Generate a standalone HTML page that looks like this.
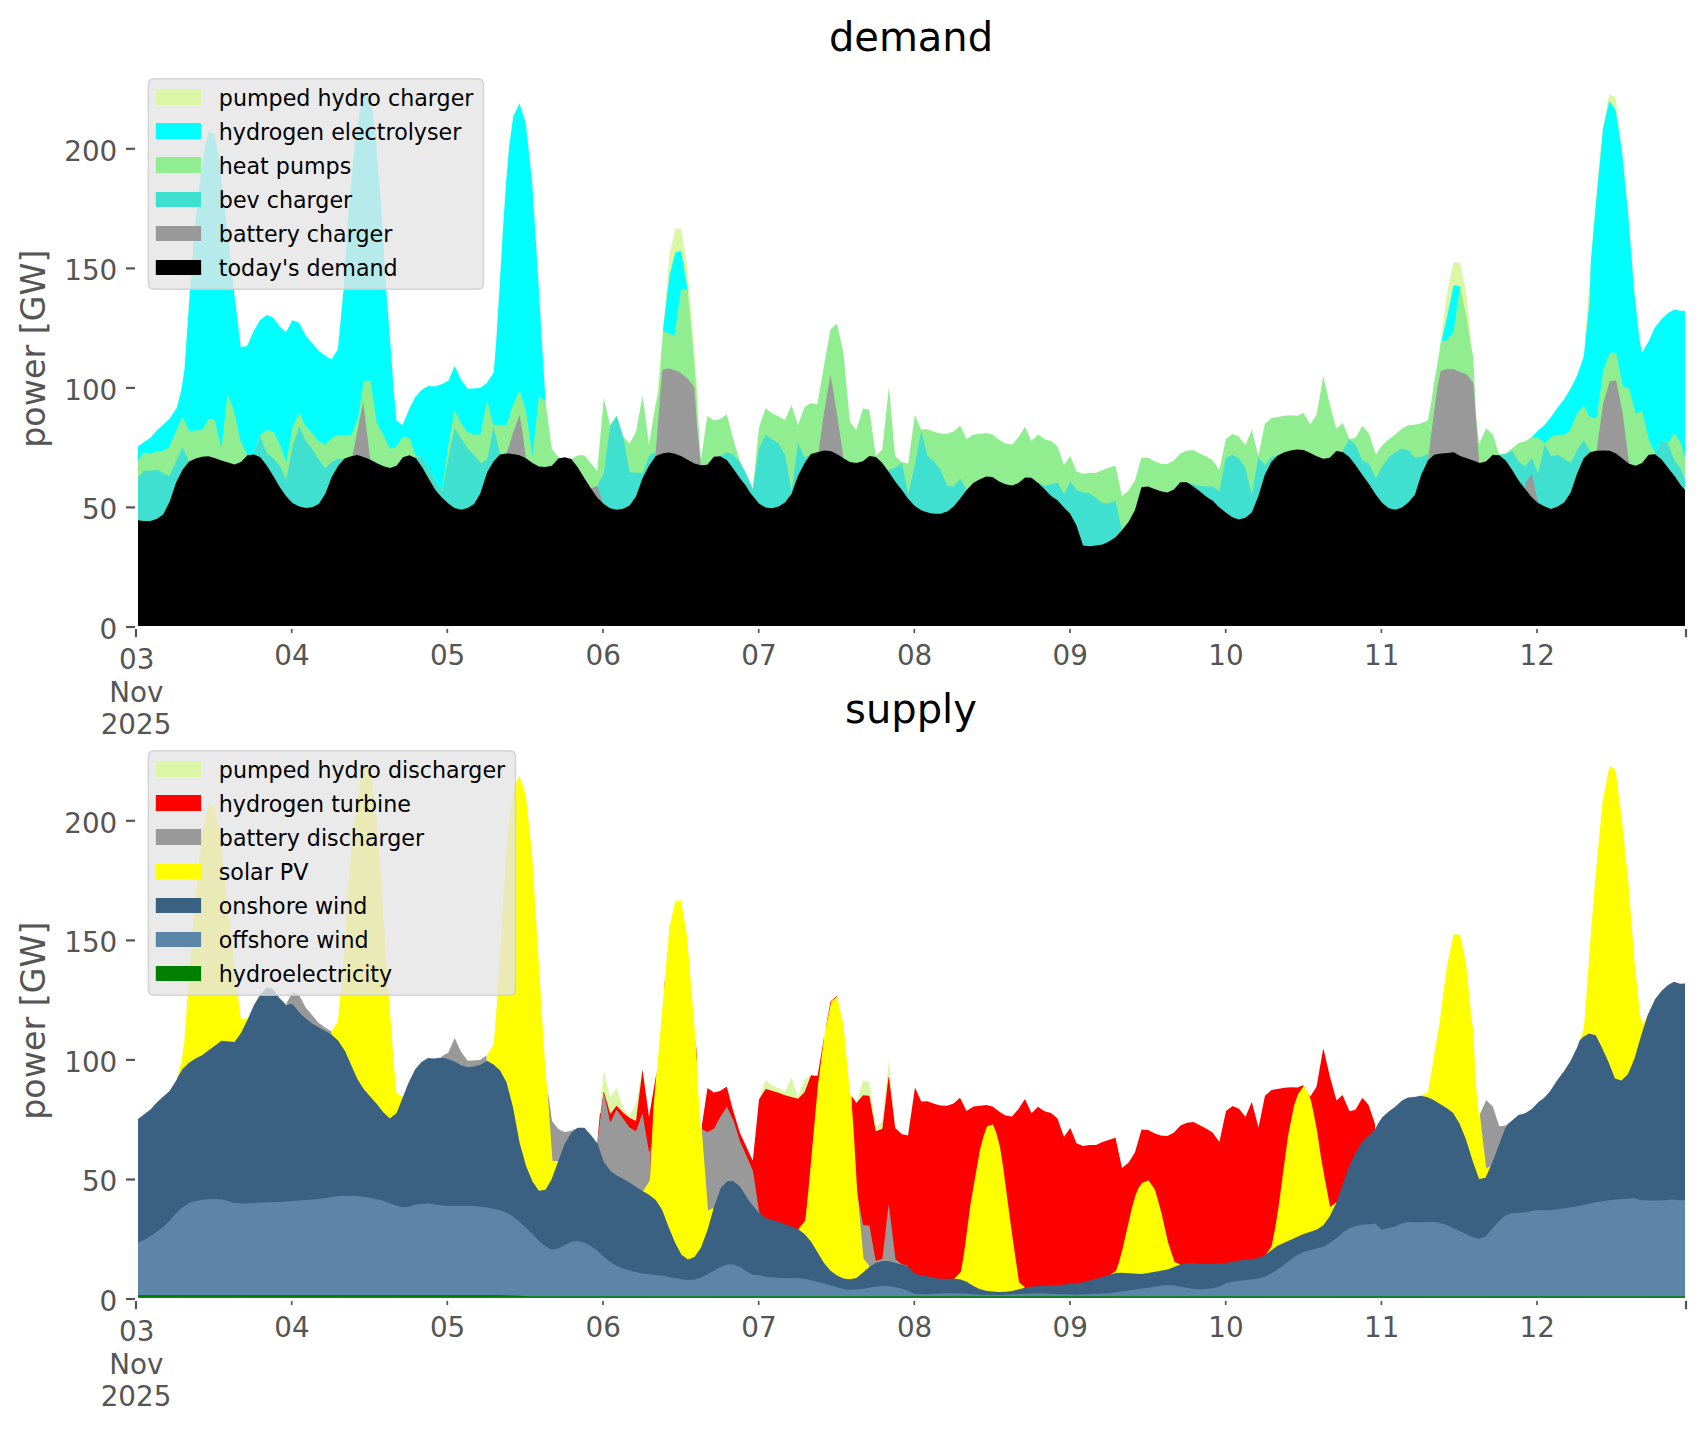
<!DOCTYPE html>
<html><head><meta charset="utf-8"><title>demand / supply</title>
<style>
html,body{margin:0;padding:0;background:#fff;}
body{width:1706px;height:1431px;overflow:hidden;}
svg{display:block}
text{font-family:"DejaVu Sans","Liberation Sans",sans-serif;}
.tk{font-size:27.8px;fill:#555555}
.tt{font-size:40px;fill:#000}
.yl{font-size:33.3px;fill:#555555}
.lg{font-size:22.2px;fill:#000}
</style></head><body>
<svg width="1706" height="1431" viewBox="0 0 1706 1431">
<defs><clipPath id="c1"><rect x="138" y="60" width="1547" height="566"/></clipPath><clipPath id="c2"><rect x="138" y="730" width="1547" height="568"/></clipPath></defs>
<rect width="1706" height="1431" fill="#ffffff"/>
<g clip-path="url(#c1)" shape-rendering="geometricPrecision"><path d="M657.7 626.0L657.7 390.0L663.1 329.0L669.6 253.3L675.5 229.0L681.1 228.2L687.0 264.0L692.4 329.0L697.4 390.0L697.4 626.0Z" fill="#d9f7a5"/>
<path d="M1440.9 626.0L1440.9 340.0L1447.2 292.6L1453.6 262.2L1460.0 262.8L1466.3 292.6L1470.9 340.0L1470.9 626.0Z" fill="#d9f7a5"/>
<path d="M1585.0 626.0L1585.0 340.0L1590.8 261.7L1596.2 196.3L1602.6 129.1L1609.3 94.0L1615.5 97.6L1622.0 149.0L1628.6 212.6L1634.4 289.0L1639.8 340.0L1639.8 626.0Z" fill="#d9f7a5"/>
<path d="M136.0 626.0L136.0 446.9L137.1 446.9L150.6 437.5L157.2 430.0L169.4 419.1L176.9 407.5L181.6 388.8L184.4 370.0L190.0 290.1L194.7 230.1L199.4 185.0L204.1 151.3L208.8 131.6L214.4 134.4L219.1 158.8L223.8 200.1L229.4 248.8L234.1 292.0L240.8 347.2L247.2 346.1L253.5 331.3L260.0 320.2L266.6 315.0L272.9 317.2L279.4 326.1L286.0 332.2L292.4 320.2L298.9 322.6L305.5 335.3L312.1 343.0L318.6 350.8L324.9 355.5L331.5 359.4L337.9 349.3L343.5 290.0L348.5 211.3L354.2 151.3L359.8 110.0L364.5 95.0L370.1 95.9L375.7 136.3L381.4 211.3L386.0 286.3L390.7 348.1L393.6 388.8L396.4 420.6L402.4 425.3L409.5 408.5L415.1 397.2L421.7 389.7L428.3 385.9L434.8 386.5L442.3 384.1L447.0 381.3L448.2 381.2L454.7 366.0L461.2 380.1L467.7 388.7L480.1 388.1L486.6 383.3L493.7 372.5L496.3 340.0L499.6 285.8L502.8 231.7L506.1 181.8L509.3 145.0L513.2 116.8L519.5 103.4L525.8 123.3L528.8 151.5L532.1 181.8L535.3 231.7L538.6 285.8L541.8 340.0L544.9 390.0L545.6 401.9L546.9 482.5L660.0 600.0L663.1 329.0L669.6 275.0L675.5 252.2L681.1 251.1L687.6 289.7L689.0 600.0L1440.0 600.0L1441.8 340.0L1447.6 314.4L1453.6 285.3L1460.0 286.2L1461.0 600.0L1494.0 600.0L1531.8 437.0L1538.1 430.4L1544.8 424.7L1551.1 416.9L1557.7 407.5L1564.1 399.2L1570.7 388.6L1577.1 375.6L1583.7 356.7L1587.3 323.6L1589.6 300.0L1590.8 261.7L1596.6 196.3L1603.0 129.1L1609.3 100.9L1615.5 110.0L1621.7 149.0L1628.0 212.6L1633.9 289.0L1639.5 340.0L1642.1 352.4L1648.7 341.3L1655.0 327.2L1661.7 318.9L1668.0 313.0L1674.6 309.4L1681.0 311.1L1686.5 310.6L1687.0 310.6L1687.0 626.0Z" fill="#00ffff"/>
<path d="M136.0 626.0L136.0 462.9L137.1 462.9L143.1 452.5L149.7 453.8L156.3 451.6L162.8 451.6L169.4 446.3L182.5 416.5L189.1 431.0L195.7 430.4L202.2 430.0L208.8 418.4L214.8 420.3L221.4 448.8L227.5 394.0L233.5 409.4L240.7 441.3L247.2 454.4L250.1 458.2L253.8 452.5L260.4 434.7L266.9 430.0L273.5 431.9L280.1 445.0L286.3 461.9L292.8 426.3L299.4 412.2L305.4 426.3L312.0 432.8L318.5 441.3L325.1 444.5L331.7 437.9L338.2 434.7L345.7 435.7L351.3 434.7L357.9 418.8L363.9 380.7L370.5 380.7L376.7 422.5L383.2 434.7L389.8 448.8L396.4 446.5L402.9 436.6L409.5 437.9L415.5 455.3L422.6 457.4L430.1 470.9L442.3 491.6L442.3 490.1L448.3 445.0L454.6 410.3L461.2 423.5L467.6 432.3L474.1 434.7L480.5 434.2L487.1 400.0L493.5 425.3L500.0 424.4L506.6 425.3L513.0 404.7L519.5 390.3L525.9 410.3L532.5 456.3L538.9 396.3L545.4 401.0L551.8 448.8L558.4 457.2L564.7 460.0L571.3 459.1L577.9 455.3L584.3 455.3L590.8 462.9L597.2 471.3L603.8 398.1L610.1 425.3L616.7 415.6L623.1 436.6L629.6 443.7L636.0 431.9L642.6 395.3L649.0 445.0L655.5 405.0L658.8 390.0L663.1 331.3L674.6 335.6L681.1 288.4L687.6 289.7L692.4 340.0L696.3 390.0L700.9 460.0L707.3 416.0L713.9 420.6L720.2 419.1L726.8 414.6L733.2 439.0L739.8 460.6L746.1 474.9L752.7 488.7L752.8 488.9L759.0 427.5L765.6 407.9L772.0 413.4L778.6 416.2L785.0 420.0L791.6 405.1L797.9 425.2L804.6 406.7L810.9 403.2L817.5 403.9L823.9 366.1L830.5 329.5L836.9 323.6L843.5 353.1L849.9 421.6L856.3 430.6L862.9 408.6L869.3 409.8L875.9 455.9L882.3 449.3L888.9 386.9L895.2 455.9L901.9 462.2L908.2 463.4L914.8 415.0L921.2 429.4L927.6 429.2L934.2 431.8L940.6 433.4L947.2 433.7L953.6 431.5L960.2 425.6L966.6 439.3L973.2 434.6L979.5 433.9L986.2 433.0L992.5 434.6L999.2 439.8L1005.5 443.6L1012.1 444.5L1018.5 437.0L1025.1 426.8L1031.5 441.2L1038.1 434.6L1044.5 439.3L1051.1 441.0L1057.5 446.4L1064.1 465.3L1064.7 464.1L1070.2 455.9L1076.5 471.2L1083.1 474.1L1089.5 473.1L1095.9 472.9L1102.5 470.0L1108.9 467.7L1115.5 465.8L1121.9 496.0L1128.5 490.8L1134.9 480.7L1141.5 457.5L1147.9 457.8L1154.5 461.3L1160.8 463.7L1167.5 464.1L1173.8 460.6L1180.4 453.5L1186.8 450.7L1193.4 450.0L1199.8 453.5L1206.4 456.6L1212.8 460.6L1219.4 470.0L1225.8 439.3L1232.4 434.1L1238.8 436.5L1245.4 445.2L1251.8 429.9L1258.4 455.9L1264.8 424.0L1271.4 418.1L1277.7 416.9L1284.4 415.7L1290.7 415.2L1297.3 415.7L1303.7 412.9L1310.3 424.5L1316.7 414.5L1323.3 376.0L1329.7 403.9L1336.3 428.7L1342.7 422.8L1349.3 439.3L1355.7 437.7L1362.3 425.9L1368.7 433.0L1370.0 437.0L1375.9 454.7L1382.3 445.2L1388.9 439.3L1395.3 434.6L1401.9 428.7L1408.3 425.2L1414.9 424.7L1421.2 423.3L1427.9 420.4L1430.9 403.9L1434.9 377.9L1439.0 354.3L1440.8 341.3L1447.2 340.0L1453.6 331.7L1460.0 286.2L1466.3 316.0L1470.0 340.0L1473.2 356.7L1476.3 418.1L1479.1 444.1L1486.2 428.2L1492.8 434.6L1499.2 454.2L1505.8 453.5L1512.2 448.3L1518.8 442.9L1525.2 441.2L1531.8 437.0L1538.1 437.7L1544.8 443.6L1551.1 437.0L1557.7 434.6L1564.1 435.1L1570.7 429.4L1577.1 413.4L1583.7 405.6L1590.1 417.4L1596.7 418.1L1603.1 370.8L1609.7 353.1L1616.1 352.4L1622.7 386.2L1629.1 388.6L1635.7 413.8L1642.1 411.0L1648.7 439.3L1655.0 453.0L1661.7 439.3L1668.0 442.9L1674.6 433.0L1681.0 444.1L1686.5 463.0L1687.0 463.0L1687.0 626.0Z" fill="#90ee90"/>
<path d="M136.0 626.0L136.0 478.8L137.1 478.8L144.1 470.4L150.6 470.7L157.2 469.8L163.8 473.5L169.4 476.0L182.5 447.3L189.1 461.4L191.9 475.0L250.1 475.0L252.9 454.4L260.4 436.6L266.9 453.5L273.5 458.2L280.1 466.6L286.3 479.7L292.8 445.0L299.4 426.3L305.4 440.3L312.0 448.8L318.5 459.1L325.1 467.9L331.7 461.9L338.2 458.7L345.7 458.5L349.5 475.0L411.4 475.0L415.1 456.3L422.6 457.8L430.1 471.3L442.3 491.9L448.3 458.2L454.6 428.2L461.2 438.5L467.6 448.4L474.1 455.3L480.5 462.9L487.1 460.0L493.5 427.2L500.0 453.5L502.8 475.0L593.8 501.3L597.2 485.9L603.8 473.2L610.1 426.3L616.7 416.0L623.1 436.6L629.6 472.2L636.0 472.8L642.6 472.8L649.0 456.3L652.0 453.1L655.5 454.0L657.6 475.0L717.6 475.0L720.2 455.9L726.8 452.5L733.2 454.4L739.8 461.9L746.1 473.2L752.7 489.1L752.8 490.1L759.0 448.8L765.6 434.6L772.0 439.3L778.6 443.6L785.0 454.7L791.6 491.8L797.9 442.9L804.6 457.8L810.9 454.0L813.8 479.5L885.8 488.9L888.9 470.0L895.2 467.7L901.9 463.0L908.2 493.7L914.8 465.3L921.2 431.1L927.6 455.9L934.2 461.8L940.6 470.0L947.2 485.4L953.6 487.0L960.2 478.8L966.6 489.6L969.6 507.8L1034.6 507.8L1038.1 482.3L1044.5 485.9L1051.1 484.2L1057.5 482.6L1064.1 494.1L1064.7 493.7L1070.2 481.4L1076.5 490.1L1083.1 492.5L1089.5 493.2L1095.9 497.9L1102.5 503.1L1108.9 503.6L1115.5 500.7L1121.9 530.3L1124.9 548.0L1184.0 512.5L1186.8 482.3L1193.4 484.2L1199.8 486.1L1206.4 486.6L1212.8 486.6L1219.4 491.3L1225.8 458.2L1232.4 454.7L1238.8 458.2L1245.4 467.7L1251.8 494.8L1258.4 457.0L1264.8 465.3L1271.4 457.0L1277.7 455.4L1280.8 479.5L1339.9 479.5L1342.7 451.1L1349.3 439.3L1355.7 445.2L1362.3 460.6L1368.7 463.4L1375.9 478.3L1382.3 466.5L1388.9 457.0L1395.3 452.3L1401.9 448.8L1408.3 450.0L1414.9 457.8L1421.2 457.0L1427.9 453.5L1429.0 479.5L1496.3 479.5L1499.2 454.7L1505.8 454.0L1512.2 451.1L1518.8 461.8L1525.2 466.5L1531.8 458.2L1538.1 473.6L1544.8 444.5L1551.1 455.9L1557.7 454.7L1564.1 458.7L1570.7 463.0L1577.1 450.0L1583.7 440.5L1590.1 451.1L1593.2 479.5L1652.2 479.5L1655.0 453.0L1661.7 439.3L1668.0 444.1L1674.6 460.6L1681.0 468.9L1686.5 484.2L1687.0 484.2L1687.0 626.0Z" fill="#40e0d0"/>
<path d="M352.3 626.0L352.3 456.3L363.2 401.9L370.1 458.2L370.1 626.0Z" fill="#999999"/>
<path d="M506.6 626.0L506.6 453.5L513.0 432.8L519.5 415.0L522.5 431.9L525.9 458.2L525.9 626.0Z" fill="#999999"/>
<path d="M590.8 626.0L590.8 488.2L597.2 485.9L602.8 502.2L602.8 626.0Z" fill="#999999"/>
<path d="M655.5 626.0L655.5 454.4L658.5 416.9L662.1 372.0L663.1 369.2L669.6 368.6L678.3 371.4L687.0 377.9L692.4 384.4L694.4 388.0L697.0 426.0L700.9 465.5L700.9 626.0Z" fill="#999999"/>
<path d="M818.5 626.0L818.5 451.9L823.9 413.4L830.5 374.4L836.9 413.4L843.5 457.8L843.5 626.0Z" fill="#999999"/>
<path d="M1427.9 626.0L1427.9 460.6L1430.9 437.0L1434.2 411.0L1437.3 387.4L1440.8 370.8L1447.2 369.0L1453.8 369.2L1460.2 372.0L1466.8 374.4L1473.2 382.7L1476.3 422.8L1479.1 463.0L1479.1 626.0Z" fill="#999999"/>
<path d="M1525.2 626.0L1525.2 483.0L1531.8 473.6L1538.1 503.1L1538.1 626.0Z" fill="#999999"/>
<path d="M1596.7 626.0L1596.7 450.7L1599.1 432.3L1603.1 403.9L1609.7 381.5L1616.1 380.3L1622.7 413.4L1629.1 463.7L1629.1 626.0Z" fill="#999999"/>
<path d="M136.0 626.0L136.0 520.1L137.1 520.1L143.7 521.0L150.3 521.0L156.6 519.1L163.2 514.4L169.8 501.3L176.1 482.5L182.7 469.4L189.1 461.4L195.7 458.5L202.0 456.7L208.6 456.3L215.2 458.2L221.5 460.4L228.1 462.5L234.5 464.4L241.0 461.9L247.4 455.3L254.0 454.4L260.4 457.2L266.9 465.7L273.3 476.0L279.9 487.2L286.4 496.6L292.8 503.2L299.4 506.6L305.8 507.9L312.3 507.3L318.7 504.1L325.3 493.8L331.7 476.9L338.2 465.7L344.6 458.5L351.2 456.3L357.5 455.0L364.1 457.2L370.5 459.7L377.0 463.2L383.6 466.2L390.0 467.9L396.6 465.7L402.9 457.2L409.5 455.3L415.9 458.2L422.4 467.5L428.8 478.8L435.4 490.1L441.8 497.4L448.3 503.6L454.6 507.9L461.2 509.7L467.6 507.9L474.1 504.1L480.5 492.9L487.1 472.2L493.5 461.5L500.0 454.4L506.6 453.5L513.0 454.0L519.5 455.3L525.9 458.2L532.5 462.9L538.9 466.6L545.4 467.0L551.8 465.7L558.4 458.5L564.7 457.2L571.3 459.1L577.9 467.5L584.3 477.9L590.8 488.2L597.2 497.6L603.8 504.1L610.1 508.2L616.7 509.7L623.1 508.8L629.6 505.4L636.0 496.6L642.6 477.9L649.0 465.7L655.5 456.3L662.1 453.5L668.5 452.5L675.0 453.8L681.4 456.3L688.0 460.0L694.4 463.4L700.9 465.3L707.3 464.7L713.9 456.7L720.2 456.3L726.8 460.0L733.2 468.5L739.8 477.9L746.1 485.9L750.0 492.5L759.0 503.6L765.6 507.4L772.0 508.3L778.6 506.6L785.0 502.6L791.6 493.7L797.9 475.9L804.6 463.0L810.9 454.0L817.5 452.3L823.9 450.4L830.5 451.1L836.9 454.0L843.5 458.2L849.9 462.0L856.3 463.0L862.9 461.3L869.3 455.9L875.9 457.0L882.3 463.0L888.9 471.9L895.2 481.4L901.9 490.1L908.2 498.8L914.8 505.9L921.2 510.2L927.6 512.5L934.2 513.7L940.6 513.7L947.2 511.4L953.6 506.6L960.2 498.4L966.6 490.1L973.2 483.0L979.5 479.5L986.2 476.6L992.5 477.1L999.2 481.4L1005.5 484.2L1012.1 485.4L1018.5 483.0L1025.1 477.6L1031.5 477.8L1038.1 483.0L1044.5 488.9L1051.1 496.0L1057.5 500.3L1060.0 503.1L1064.7 508.3L1070.2 513.7L1076.5 525.5L1083.1 545.6L1089.5 546.3L1095.9 545.6L1102.5 544.4L1108.9 541.6L1115.5 537.3L1121.9 530.3L1128.5 522.0L1134.9 510.2L1141.5 487.3L1147.9 486.6L1154.5 488.9L1160.8 491.3L1167.5 492.5L1173.8 489.6L1180.4 482.3L1186.8 482.3L1193.4 486.6L1199.8 491.3L1206.4 496.7L1212.8 500.7L1219.4 507.4L1225.8 512.5L1232.4 517.3L1238.8 519.6L1245.4 517.7L1251.8 512.5L1258.4 496.0L1264.8 474.8L1271.4 461.8L1277.7 455.4L1284.4 452.3L1290.7 450.4L1297.3 449.5L1303.7 450.0L1310.3 453.0L1316.7 456.3L1323.3 458.7L1329.7 457.8L1336.3 451.1L1342.7 451.9L1349.3 457.0L1355.7 465.3L1362.3 474.8L1370.0 485.4L1375.9 494.8L1382.3 503.1L1388.9 508.3L1395.3 509.7L1401.9 507.4L1408.3 502.6L1414.9 494.8L1421.2 474.8L1427.9 460.6L1434.2 454.7L1440.8 453.5L1447.2 453.0L1453.8 452.3L1460.2 455.9L1466.8 458.2L1473.2 460.6L1479.8 463.0L1486.2 461.3L1492.8 454.7L1499.2 455.2L1505.8 460.6L1512.2 470.0L1518.8 480.7L1525.2 488.9L1531.8 497.2L1538.1 503.1L1544.8 506.6L1551.1 509.0L1557.7 506.6L1564.1 502.6L1570.7 492.5L1577.1 473.6L1583.7 458.2L1590.1 452.3L1596.7 450.7L1603.1 450.4L1609.7 450.7L1616.1 453.5L1622.7 458.7L1629.1 463.7L1635.7 465.8L1642.1 463.0L1648.7 454.7L1655.0 454.2L1661.7 459.4L1668.0 467.7L1674.6 475.9L1681.0 485.4L1686.5 491.8L1687.0 491.8L1687.0 626.0Z" fill="#000000"/></g>
<g clip-path="url(#c2)"><path d="M134 1297.7L134 1301.7L600 1301.7L600.5 1106.7L603.5 1073.4L604 1071L610 1096.9L610.5 1096.7L616.5 1087.9L617 1088.6L623 1108.3L629.5 1115.6L636 1103.9L642.5 1067.9L645 1085.9L645.5 1301.7L759 1301.7L759.5 1098L765.5 1080.2L766 1080.2L772 1085.4L778.5 1088.2L785 1092L791.5 1077.3L798 1096.9L804.5 1079L810.5 1075.4L811 1301.7L856 1301.7L856.5 1101.9L863 1080.6L869 1081.7L869.5 1083.2L876 1127.8L882 1121.6L889 1060L895 1125.7L895.5 1301.7L1690 1301.7L1690 1297.7Z" fill="#d9f7a5"/>
<path d="M134 1297.7L134 1301.7L597 1301.7L597.5 1140L600 1112.2L600.5 1114.4L603.5 1092.4L604 1092L610 1113L610.5 1113.8L616.5 1105.7L623.5 1113.1L629.5 1117.7L636 1120.9L642.5 1069.7L649 1117L656.5 1072.5L657 1301.7L664 1301.7L664.5 984.7L665 978.9L665.5 1301.7L695 1301.7L695.5 1038.8L697 1057.1L697.5 1301.7L701.5 1301.7L702 1124.4L707.5 1088.1L714 1092.6L720 1091.1L726.5 1086.8L727 1087.4L733 1110.2L740 1133.1L752.5 1160.3L753 1158.9L759 1099.5L765.5 1089.2L766 1089L778.5 1092.8L785 1095.3L798 1098.7L804.5 1092.2L811 1075.2L817.5 1075.9L824 1037.5L824.5 1301.7L826 1301.7L826.5 1023.7L830.5 1001.5L836.5 996L837 996L837.5 1301.7L851 1301.7L851.5 1095.9L856.5 1103L863 1095.3L869 1095.8L869.5 1096.4L875.5 1130.2L876 1131.2L882 1128.9L882.5 1127.9L888.5 1076.7L889 1077.4L895 1126.4L895.5 1128.2L902 1134.2L908 1135.4L915 1087.5L921 1100.9L921.5 1101.4L927.5 1101.2L934 1103.7L940.5 1105.4L947 1105.7L953.5 1103.5L960 1097.8L966.5 1111.1L973.5 1106.6L986.5 1105.1L992.5 1106.6L999 1111.6L1005.5 1115.6L1012 1116.5L1018.5 1109L1025 1099L1031.5 1113.2L1038 1106.7L1044.5 1111.3L1051 1113L1057.5 1118.4L1064 1137L1070 1128.2L1070.5 1128.6L1076.5 1143.2L1083 1146.1L1089.5 1145.1L1096 1144.9L1102.5 1142L1115.5 1137.8L1122 1167.9L1128.5 1162.8L1135 1152.3L1141.5 1129.5L1148 1129.9L1154.5 1133.3L1160.5 1135.6L1167.5 1136.1L1174 1132.4L1180.5 1125.5L1187 1122.7L1193.5 1122.1L1206.5 1128.7L1212.5 1132.4L1219 1141.4L1219.5 1141.5L1226 1111.1L1232 1106.4L1232.5 1106.1L1239 1108.8L1245.5 1117L1251.5 1102.6L1252 1102.7L1258.5 1127.4L1265 1095.8L1271.5 1090.1L1284.5 1087.7L1290.5 1087.2L1297.5 1087.6L1303.5 1085L1304 1301.7L1308.5 1301.7L1309 1094.2L1310 1096L1310.5 1096.2L1316.5 1086.8L1323 1049.7L1323.5 1048.9L1330 1077L1336.5 1100.5L1342.5 1095L1349.5 1111.2L1355.5 1109.8L1362 1098.4L1362.5 1098.1L1368.5 1104.8L1375 1124L1375.5 1301.7L1690 1301.7L1690 1297.7Z" fill="#ff0000"/>
<path d="M134 1297.7L134 1301.7L286 1301.7L286.5 1003.3L292.5 992.2L299 994.8L305.5 1007.3L318.5 1022.7L325 1027.6L331.5 1031.4L332 1301.7L441.5 1301.7L442 1056.2L447 1053.3L448 1053.2L454.5 1038.5L455 1038.7L461 1051.7L467.5 1060.4L468 1060.7L480 1060.1L486.5 1055.4L487 1301.7L547 1301.7L547.5 1088.7L552 1121.1L558.5 1129.2L564.5 1131.9L571 1131.1L575.5 1128.7L576 1301.7L597 1301.7L597.5 1140.7L603.5 1093.7L604 1093.5L610 1121.3L610.5 1122.3L616.5 1109.4L629.5 1127.5L636 1131.2L642.5 1113.2L649 1152.1L649.5 1151.6L650.5 1145.8L651 1301.7L701.5 1301.7L702 1129.3L707.5 1132L714 1128.8L720.5 1116.5L727 1106.8L733.5 1120.8L740 1141.2L753 1171.1L759 1211.3L759.5 1212.8L760 1301.7L857.5 1301.7L858 1197.8L863 1225L869 1225.4L869.5 1226L875.5 1259.8L876 1260.8L882 1259.1L882.5 1258.1L888.5 1205.2L889 1205.9L895.5 1259.2L901.5 1263.9L908 1265.7L908.5 1301.7L1479.5 1301.7L1480 1114.1L1486 1100.6L1486.5 1100.5L1492.5 1106.3L1493 1107.2L1499 1125.6L1499.5 1126.2L1505.5 1125.5L1508.5 1123.3L1509 1301.7L1690 1301.7L1690 1297.7Z" fill="#999999"/>
<path d="M134 1297.7L134 1301.7L177 1301.7L177.5 1077.1L181.5 1061.2L184.5 1040.6L190 962.1L194.5 904.7L199.5 856.3L204 824L209 803.7L214 806.2L214.5 806.9L219 830.3L234 963.1L240.5 1016.7L241 1019.2L247 1018.1L247.5 1301.7L331.5 1301.7L332 1030.6L337.5 1021.9L338 1020.2L343.5 962L348.5 883.3L354 825.4L360 781.4L364.5 767L370 767.9L375.5 806.9L381.5 884.9L386 958.3L393.5 1059.4L396 1088.1L396.5 1092.7L402 1097L402.5 1097.1L403 1095.9L403.5 1301.7L486.5 1301.7L487 1054.7L493.5 1044.8L494 1040.8L496.5 1008.7L506 855.3L509 820.5L513 790.2L513.5 788.2L519.5 775.4L525.5 794.4L526 797.2L532 852.9L545.5 1072.2L547.5 1090.7L552.5 1161.1L558 1161.1L558.5 1301.7L642.5 1301.7L643 1191.2L649.5 1180.9L650 1178L653.5 1106.8L656.5 1073.6L657.5 1067.9L658 1058.6L669.5 926.5L675.5 901L681 900.2L687 936L695.5 1039.5L697 1062.4L697.5 1080.3L700.5 1125.9L701 1131.3L701.5 1127.9L702 1132.5L708 1209.5L708.5 1210.6L713.5 1207.8L714 1301.7L798 1301.7L798.5 1229.1L805 1221L805.5 1218.7L808.5 1189.2L818 1084.5L824.5 1034.8L831 1002.5L831.5 1001.3L837 996.5L843.5 1025.1L849.5 1089.3L850 1093.7L851 1095.1L853.5 1128.5L857 1188.3L863.5 1258.5L869 1265.6L869.5 1301.7L954 1301.7L954.5 1278.5L960.5 1272.3L961 1271.3L964 1253.6L970.5 1204L980 1149.5L983.5 1136.5L987 1126.3L993 1124.4L996.5 1133.4L1000 1147.2L1003 1166.3L1012.5 1237.4L1019 1281.7L1019.5 1282.7L1024.5 1286.8L1025 1301.7L1110 1301.7L1110.5 1274.5L1116 1270.8L1119 1262.1L1122.5 1249.1L1132 1207.6L1135.5 1195.2L1138.5 1188L1142 1182.9L1148.5 1180.2L1155 1189.8L1155.5 1191.4L1161.5 1213.2L1168 1242.2L1174.5 1262.1L1180 1264.2L1180.5 1301.7L1266 1301.7L1266.5 1253.7L1271.5 1246.6L1275 1229.1L1278.5 1207.2L1288 1136.1L1294 1105.7L1298 1094.3L1304 1085.4L1309 1094.4L1311 1100.8L1313.5 1112.3L1317 1130.8L1320.5 1154.4L1323.5 1171.7L1330 1206.6L1330.5 1206.8L1336.5 1201.9L1337 1301.7L1420.5 1301.7L1421 1095.3L1427.5 1092.6L1428 1091.9L1439 1026.3L1447 966.1L1453.5 934.7L1454 934.2L1460 934.8L1466 963.2L1470.5 1007.9L1471 1017.2L1473 1027.7L1476.5 1092L1479 1115.2L1480 1115.8L1486 1166.7L1486.5 1168.2L1490.5 1166.2L1491 1301.7L1579.5 1301.7L1580 1039.3L1583.5 1029.3L1584.5 1021.3L1591 931.3L1596 870.7L1602.5 802.1L1609.5 766.1L1615.5 769.6L1622 821L1628.5 883.6L1634.5 961.9L1640 1014.4L1642 1023.9L1642.5 1023.7L1647.5 1015.3L1648 1301.7L1690 1301.7L1690 1297.7Z" fill="#ffff00"/>
<path d="M134 1297.7L134 1119L138 1118.9L150.5 1109.6L157.5 1101.7L169.5 1091L176.5 1080.1L177.5 1077.4L182.5 1069.1L189 1062.8L195.5 1058.4L202 1055.3L221.5 1040.7L234.5 1042L241 1033L247.5 1019.7L254 1005L260.5 994.2L267 987.4L273 989.3L279.5 998.2L283 1001.4L286 1004.9L286.5 1005.2L290 1004.1L293 1004.6L299.5 1012.8L306 1018.8L312.5 1023.7L331.5 1034.4L338 1040.5L345 1051L357.5 1079.2L364 1089.5L377 1104.2L383.5 1112.6L390 1118.4L396.5 1113.1L397 1112.1L408 1084L415 1069.5L421.5 1061.9L428 1058.1L434.5 1058.5L442 1057.4L448 1059.1L454.5 1061.4L461 1065.2L467.5 1067.2L474 1066.4L480.5 1064.7L487 1060.8L493.5 1064.6L500 1070.3L506.5 1082.3L513 1107.3L519.5 1142.3L526 1165.7L532.5 1181.4L538.5 1190.3L539 1190.7L545.5 1189.8L551.5 1179.5L564.5 1144.3L571.5 1132.4L577.5 1127.8L584.5 1127.8L591.5 1135.8L597 1143L597.5 1142.9L603.5 1161.2L610.5 1171L616.5 1175.2L629.5 1182.5L642.5 1191.1L649 1194.8L655.5 1199.8L662 1209.4L668.5 1226.7L675 1242.4L681.5 1254.8L688 1259.6L694.5 1257.1L701 1247.5L707.5 1229.9L714 1207.1L720.5 1188.6L727 1181.4L733 1180.9L740 1186.5L750 1202.2L759 1213.1L765.5 1218L778.5 1221.8L798 1229.1L804.5 1233.9L811 1241.5L824 1263L830.5 1270.7L837 1275.6L843.5 1278.5L850 1279.3L856.5 1277.9L869.5 1266.9L875.5 1263L882.5 1260.9L888.5 1260.9L908 1266.2L915 1274L927.5 1276.3L934 1277.9L940.5 1278.8L953.5 1278.8L960 1279.3L966.5 1281.7L973 1285.8L979.5 1289.1L986 1290.8L992.5 1291.5L999 1292L1005.5 1291.7L1012 1291L1025 1287.8L1031.5 1286.6L1060 1284.9L1083 1282.2L1102.5 1277.1L1115.5 1273.1L1122 1272.7L1141.5 1273.9L1148 1273.1L1167.5 1269.5L1180.5 1264.6L1186.5 1263L1193.5 1262.9L1200 1263.9L1212.5 1264.1L1225.5 1262.9L1245 1259.4L1251.5 1259L1258 1258L1264.5 1255.5L1277.5 1245.7L1303.5 1234L1316.5 1229.7L1323 1225.4L1329.5 1216.7L1336 1203.4L1349 1166.5L1355.5 1153L1362 1142.2L1368 1136L1370 1134.9L1375 1129.3L1378.5 1122.8L1382.5 1117L1389 1111.2L1395.5 1106.4L1402 1100.6L1408 1097.5L1414.5 1097L1420.5 1095.8L1427 1097L1433.5 1099.9L1446.5 1107.9L1453 1112.8L1459.5 1123.4L1466 1139.6L1472.5 1160.6L1479 1178.7L1479.5 1178.9L1485.5 1177.7L1492 1163.3L1505 1128.8L1508.5 1123.4L1518.5 1115.1L1525 1113.3L1531.5 1109.2L1538.5 1102.1L1544 1098.1L1550 1091.2L1557.5 1079.8L1564 1071.3L1570.5 1060.9L1577 1047.8L1579.5 1040.8L1582.5 1037.4L1589 1033.5L1595.5 1035.3L1596 1035.8L1602 1047.7L1608.5 1062.1L1615 1078.4L1621.5 1080.5L1628 1073.9L1634.5 1058.4L1641 1036.1L1647.5 1015.6L1655 999.2L1661.5 991.1L1668 985L1674 981.7L1680 983.7L1690 983.2L1690 1297.7Z" fill="#3b6182"/>
<path d="M134 1297.7L134 1242.6L138 1242.5L143.5 1240.2L150 1236.6L163 1227.2L169.5 1220.7L176 1213.2L182.5 1207.2L189 1202.9L196 1200.9L202 1199.8L208.5 1199.3L215 1199L221.5 1199.3L234.5 1202.9L241 1203.4L247.5 1203.4L260 1202.4L280 1202L319 1199L338.5 1196.1L345 1195.8L357.5 1196.1L364 1196.8L377 1199.3L384 1201.1L396.5 1205.8L403 1207.3L409.5 1206.6L416 1204.6L429 1203.4L436 1204.7L448 1205.9L474 1206.1L487 1207.6L499.5 1209.9L506.5 1212.7L513 1216.5L519.5 1221.8L532.5 1234L539 1241.1L545.5 1246.3L551.5 1249.7L558.5 1248.2L571.5 1241.8L578 1241L584.5 1242.7L590.5 1246.1L597.5 1250.8L603.5 1256.6L610.5 1262.2L616.5 1265.7L623 1268.6L636 1272.3L642.5 1273.6L662.5 1275.7L681.5 1279.3L688 1280L694.5 1279.5L701 1277.6L707.5 1274.3L720.5 1267L727 1264.6L733 1264.6L740 1267.1L746 1271L753 1274.9L759 1275.1L765.5 1276.7L772 1277.6L785 1278.3L798 1278L804.5 1278.8L817.5 1281.7L843.5 1289.1L849.5 1289.8L863 1289.1L875.5 1286.6L882.5 1285.9L889 1286.1L901.5 1288.6L908.5 1290.9L915 1293.9L927.5 1294.2L947 1293.2L960 1293.2L979.5 1294.7L999 1294.9L1018.5 1293.9L1044 1293.2L1057 1294.2L1060 1293.9L1076.5 1294.7L1109 1293.2L1148 1287.8L1161 1285.4L1167.5 1284.9L1174 1285.4L1193.5 1289.1L1199.5 1289.5L1206.5 1289.1L1212.5 1288.3L1219 1286.7L1225.5 1283.5L1232 1281.8L1258.5 1278.4L1264.5 1276.8L1271.5 1273.3L1277.5 1269.5L1297 1254.9L1303.5 1251.9L1323 1246.7L1329.5 1243.2L1336 1238.4L1342.5 1232.7L1349 1228.6L1355.5 1225.9L1362 1224.7L1375.5 1223.8L1381.5 1229.6L1382 1229.7L1388.5 1227.9L1394.5 1226.7L1401.5 1223.6L1407.5 1221.9L1414.5 1222.3L1427 1222.3L1433.5 1221.8L1440 1223L1446.5 1225L1472.5 1236.9L1479 1238.9L1485.5 1236.5L1498.5 1221.7L1505 1215.7L1511.5 1213.2L1524.5 1212.5L1537.5 1210L1550 1210.3L1556.5 1209.5L1576 1206.6L1596 1202.2L1608.5 1200.2L1634.5 1198L1641 1200.2L1647.5 1200.5L1661 1200.5L1673.5 1199.5L1680 1200.2L1690 1200.2L1690 1297.7Z" fill="#5d85a7"/>
<path d="M136 1297.7L136 1295L500 1295L530 1296.2L1690 1296.2L1690 1297.7Z" fill="#008000"/></g>
<line x1="126" x2="135" y1="627.0" y2="627.0" stroke="#555555" stroke-width="2.2"/>
<text x="117.3" y="638.8" text-anchor="end" class="tk">0</text>
<line x1="126" x2="135" y1="507.4" y2="507.4" stroke="#555555" stroke-width="2.2"/>
<text x="117.3" y="519.2" text-anchor="end" class="tk">50</text>
<line x1="126" x2="135" y1="387.9" y2="387.9" stroke="#555555" stroke-width="2.2"/>
<text x="117.3" y="399.7" text-anchor="end" class="tk">100</text>
<line x1="126" x2="135" y1="268.4" y2="268.4" stroke="#555555" stroke-width="2.2"/>
<text x="117.3" y="280.2" text-anchor="end" class="tk">150</text>
<line x1="126" x2="135" y1="148.8" y2="148.8" stroke="#555555" stroke-width="2.2"/>
<text x="117.3" y="160.6" text-anchor="end" class="tk">200</text>
<line x1="136.0" x2="136.0" y1="629.0" y2="637.2" stroke="#555555" stroke-width="2.2"/>
<text x="136.8" y="668.8" text-anchor="middle" class="tk">03</text>
<text x="136.4" y="701.6" text-anchor="middle" class="tk">Nov</text>
<text x="136.0" y="733.5" text-anchor="middle" class="tk">2025</text>
<line x1="291.7" x2="291.7" y1="629.0" y2="633.0" stroke="#555555" stroke-width="1.7"/>
<text x="292.0" y="664.5" text-anchor="middle" class="tk">04</text>
<line x1="447.3" x2="447.3" y1="629.0" y2="633.0" stroke="#555555" stroke-width="1.7"/>
<text x="447.6" y="664.5" text-anchor="middle" class="tk">05</text>
<line x1="603.0" x2="603.0" y1="629.0" y2="633.0" stroke="#555555" stroke-width="1.7"/>
<text x="603.3" y="664.5" text-anchor="middle" class="tk">06</text>
<line x1="758.7" x2="758.7" y1="629.0" y2="633.0" stroke="#555555" stroke-width="1.7"/>
<text x="759.0" y="664.5" text-anchor="middle" class="tk">07</text>
<line x1="914.3" x2="914.3" y1="629.0" y2="633.0" stroke="#555555" stroke-width="1.7"/>
<text x="914.6" y="664.5" text-anchor="middle" class="tk">08</text>
<line x1="1070.0" x2="1070.0" y1="629.0" y2="633.0" stroke="#555555" stroke-width="1.7"/>
<text x="1070.3" y="664.5" text-anchor="middle" class="tk">09</text>
<line x1="1225.7" x2="1225.7" y1="629.0" y2="633.0" stroke="#555555" stroke-width="1.7"/>
<text x="1226.0" y="664.5" text-anchor="middle" class="tk">10</text>
<line x1="1381.4" x2="1381.4" y1="629.0" y2="633.0" stroke="#555555" stroke-width="1.7"/>
<text x="1381.7" y="664.5" text-anchor="middle" class="tk">11</text>
<line x1="1537.0" x2="1537.0" y1="629.0" y2="633.0" stroke="#555555" stroke-width="1.7"/>
<text x="1537.3" y="664.5" text-anchor="middle" class="tk">12</text>
<line x1="1686" x2="1686" y1="629.0" y2="637.2" stroke="#555555" stroke-width="2.2"/>
<line x1="126" x2="135" y1="1299.0" y2="1299.0" stroke="#555555" stroke-width="2.2"/>
<text x="117.3" y="1310.8" text-anchor="end" class="tk">0</text>
<line x1="126" x2="135" y1="1179.5" y2="1179.5" stroke="#555555" stroke-width="2.2"/>
<text x="117.3" y="1191.2" text-anchor="end" class="tk">50</text>
<line x1="126" x2="135" y1="1059.9" y2="1059.9" stroke="#555555" stroke-width="2.2"/>
<text x="117.3" y="1071.7" text-anchor="end" class="tk">100</text>
<line x1="126" x2="135" y1="940.4" y2="940.4" stroke="#555555" stroke-width="2.2"/>
<text x="117.3" y="952.1" text-anchor="end" class="tk">150</text>
<line x1="126" x2="135" y1="820.8" y2="820.8" stroke="#555555" stroke-width="2.2"/>
<text x="117.3" y="832.6" text-anchor="end" class="tk">200</text>
<line x1="136.0" x2="136.0" y1="1301.0" y2="1309.2" stroke="#555555" stroke-width="2.2"/>
<text x="136.8" y="1340.8" text-anchor="middle" class="tk">03</text>
<text x="136.4" y="1373.6" text-anchor="middle" class="tk">Nov</text>
<text x="136.0" y="1405.5" text-anchor="middle" class="tk">2025</text>
<line x1="291.7" x2="291.7" y1="1301.0" y2="1305.0" stroke="#555555" stroke-width="1.7"/>
<text x="292.0" y="1336.5" text-anchor="middle" class="tk">04</text>
<line x1="447.3" x2="447.3" y1="1301.0" y2="1305.0" stroke="#555555" stroke-width="1.7"/>
<text x="447.6" y="1336.5" text-anchor="middle" class="tk">05</text>
<line x1="603.0" x2="603.0" y1="1301.0" y2="1305.0" stroke="#555555" stroke-width="1.7"/>
<text x="603.3" y="1336.5" text-anchor="middle" class="tk">06</text>
<line x1="758.7" x2="758.7" y1="1301.0" y2="1305.0" stroke="#555555" stroke-width="1.7"/>
<text x="759.0" y="1336.5" text-anchor="middle" class="tk">07</text>
<line x1="914.3" x2="914.3" y1="1301.0" y2="1305.0" stroke="#555555" stroke-width="1.7"/>
<text x="914.6" y="1336.5" text-anchor="middle" class="tk">08</text>
<line x1="1070.0" x2="1070.0" y1="1301.0" y2="1305.0" stroke="#555555" stroke-width="1.7"/>
<text x="1070.3" y="1336.5" text-anchor="middle" class="tk">09</text>
<line x1="1225.7" x2="1225.7" y1="1301.0" y2="1305.0" stroke="#555555" stroke-width="1.7"/>
<text x="1226.0" y="1336.5" text-anchor="middle" class="tk">10</text>
<line x1="1381.4" x2="1381.4" y1="1301.0" y2="1305.0" stroke="#555555" stroke-width="1.7"/>
<text x="1381.7" y="1336.5" text-anchor="middle" class="tk">11</text>
<line x1="1537.0" x2="1537.0" y1="1301.0" y2="1305.0" stroke="#555555" stroke-width="1.7"/>
<text x="1537.3" y="1336.5" text-anchor="middle" class="tk">12</text>
<line x1="1686" x2="1686" y1="1301.0" y2="1309.2" stroke="#555555" stroke-width="2.2"/>
<text x="911" y="51" text-anchor="middle" class="tt">demand</text>
<text x="911" y="723" text-anchor="middle" class="tt">supply</text>
<text transform="translate(44.8,348.7) rotate(-90)" text-anchor="middle" class="yl">power [GW]</text>
<text transform="translate(44.8,1020.7) rotate(-90)" text-anchor="middle" class="yl">power [GW]</text>
<rect x="148.4" y="78.7" width="335.1" height="210.5" rx="5" ry="5" fill="#e5e5e5" fill-opacity="0.8" stroke="#cccccc" stroke-opacity="0.8" stroke-width="1.5"/>
<rect x="155.8" y="89.0" width="45.3" height="16" fill="#d9f7a5"/>
<text x="218.8" y="106.0" class="lg">pumped hydro charger</text>
<rect x="155.8" y="123.0" width="45.3" height="16" fill="#00ffff"/>
<text x="218.8" y="140.0" class="lg">hydrogen electrolyser</text>
<rect x="155.8" y="157.0" width="45.3" height="16" fill="#90ee90"/>
<text x="218.8" y="174.0" class="lg">heat pumps</text>
<rect x="155.8" y="192.0" width="45.3" height="15" fill="#40e0d0"/>
<text x="218.8" y="208.0" class="lg">bev charger</text>
<rect x="155.8" y="226.0" width="45.3" height="15" fill="#999999"/>
<text x="218.8" y="242.0" class="lg">battery charger</text>
<rect x="155.8" y="260.0" width="45.3" height="15" fill="#000000"/>
<text x="218.8" y="276.0" class="lg">today's demand</text>
<rect x="148.4" y="750.7" width="367.1" height="244.5" rx="5" ry="5" fill="#e5e5e5" fill-opacity="0.8" stroke="#cccccc" stroke-opacity="0.8" stroke-width="1.5"/>
<rect x="155.8" y="761.0" width="45.3" height="16" fill="#d9f7a5"/>
<text x="218.8" y="778.0" class="lg">pumped hydro discharger</text>
<rect x="155.8" y="795.0" width="45.3" height="16" fill="#ff0000"/>
<text x="218.8" y="812.0" class="lg">hydrogen turbine</text>
<rect x="155.8" y="829.0" width="45.3" height="16" fill="#999999"/>
<text x="218.8" y="846.0" class="lg">battery discharger</text>
<rect x="155.8" y="864.0" width="45.3" height="15" fill="#ffff00"/>
<text x="218.8" y="880.0" class="lg">solar PV</text>
<rect x="155.8" y="898.0" width="45.3" height="15" fill="#3b6182"/>
<text x="218.8" y="914.0" class="lg">onshore wind</text>
<rect x="155.8" y="932.0" width="45.3" height="15" fill="#5d85a7"/>
<text x="218.8" y="948.0" class="lg">offshore wind</text>
<rect x="155.8" y="966.0" width="45.3" height="15" fill="#008000"/>
<text x="218.8" y="982.0" class="lg">hydroelectricity</text>
</svg>
</body></html>
